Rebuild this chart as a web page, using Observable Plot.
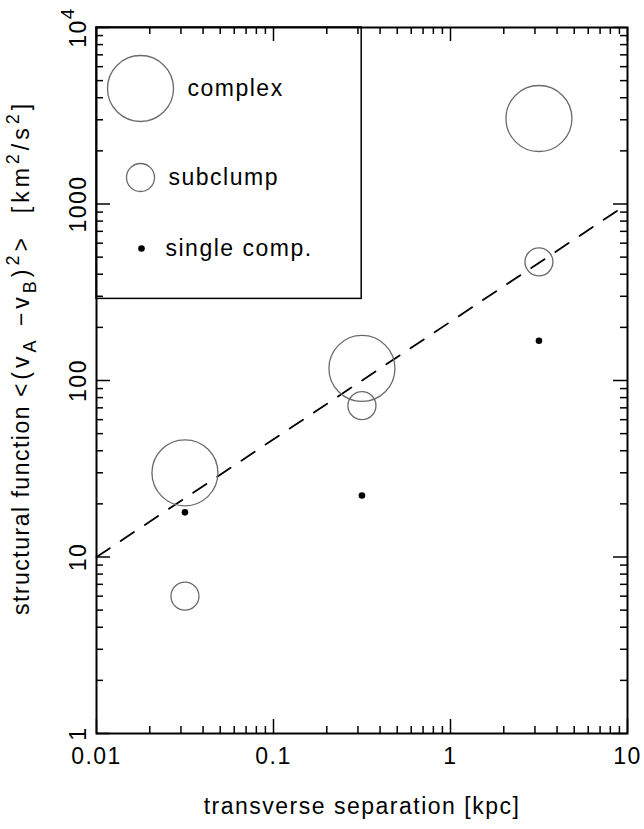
<!DOCTYPE html>
<html><head><meta charset="utf-8">
<script src="https://cdn.jsdelivr.net/npm/d3@7"></script>
<script src="https://cdn.jsdelivr.net/npm/@observablehq/plot@0.6"></script>
<style>
body{margin:0;background:#fff}
#chart svg text{letter-spacing:1.5px}
</style>
</head><body><div id="chart"></div>
<script>
// ---- data ----
const separation = [0.0316, 0.316, 3.16];          // kpc
const complexValues = [30, 117, 3050];             // km^2/s^2
const subclumpValues = [6.0, 72, 470];
const singleValues = [17.9, 22.3, 168];
const fitX = [0.01, 10];
const fitY = [10, 1000];
const xMajor = [0.01, 0.1, 1, 10];
const xTickLabels = ["0.01", "0.1", "1", "10"];
const yMajor = [1, 10, 100, 1000, 10000];
const yTickLabels = ["1", "10", "100", "1000", "10^4"];
const legendLabels = ["complex", "subclump", "single comp."];
const xTitle = "transverse separation [kpc]";

// minor ticks (2..9 in each decade)
const mult = [2,3,4,5,6,7,8,9];
const xMinor = xMajor.slice(0, -1).flatMap(d => mult.map(m => d * m));
const yMinor = yMajor.slice(0, -1).flatMap(d => mult.map(m => d * m));

const W = 644, H = 829, mL = 96, mR = 17, mT = 27, mB = 96;
const pw = W - mL - mR, ph = H - mT - mB;
const ink = "#000";
const circ = "#6a6a6a";

const fitData = fitX.map((x, i) => ({x, y: fitY[i]}));
const pts = (vals) => separation.map((x, i) => ({x, y: vals[i]}));

const plot = Plot.plot({
  width: W, height: H,
  marginLeft: mL, marginRight: mR, marginTop: mT, marginBottom: mB,
  x: {type: "log", domain: [0.01, 10]},
  y: {type: "log", domain: [1, 1e4]},
  style: {fontFamily: "'Liberation Sans', Arial, sans-serif", fontSize: "23px", background: "#fff", color: ink},
  marks: [
    // ticks, inward, on all four sides
    Plot.tickX(xMinor, {insetTop: ph - 7, stroke: ink, strokeWidth: 1.5}),
    Plot.tickX(xMajor, {insetTop: ph - 14, stroke: ink, strokeWidth: 1.5}),
    Plot.tickX(xMinor, {insetBottom: ph - 7, stroke: ink, strokeWidth: 1.5}),
    Plot.tickX(xMajor, {insetBottom: ph - 14, stroke: ink, strokeWidth: 1.5}),
    Plot.tickY(yMinor, {insetRight: pw - 7, stroke: ink, strokeWidth: 1.5}),
    Plot.tickY(yMajor, {insetRight: pw - 14, stroke: ink, strokeWidth: 1.5}),
    Plot.tickY(yMinor, {insetLeft: pw - 7, stroke: ink, strokeWidth: 1.5}),
    Plot.tickY(yMajor, {insetLeft: pw - 14, stroke: ink, strokeWidth: 1.5}),
    Plot.axisX(xMajor, {tickSize: 0, tickPadding: 14, label: null,
      tickFormat: d => xTickLabels[xMajor.indexOf(d)], fill: ink}),
    Plot.axisY(yMajor, {tickSize: 0, tickRotate: -90, tickPadding: 11, label: null,
      tickFormat: d => yTickLabels[yMajor.indexOf(d)], fill: ink}),
    Plot.text([xTitle], {frameAnchor: "bottom", dy: 73, lineAnchor: "middle", text: d => d, fill: ink}),
    // fit line
    Plot.line(fitData, {x: "x", y: "y", stroke: ink, strokeWidth: 1.8, strokeDasharray: "16,13"}),
    // data
    Plot.dot(pts(complexValues), {x: "x", y: "y", r: 33, stroke: circ, strokeWidth: 1.3, fill: "none"}),
    Plot.dot(pts(subclumpValues), {x: "x", y: "y", r: 14, stroke: circ, strokeWidth: 1.3, fill: "none"}),
    Plot.dot(pts(singleValues), {x: "x", y: "y", r: 3.3, fill: ink, stroke: "none"}),
    // legend box
    Plot.rect([0], {x1: () => 0.01, x2: () => 0.315, y1: () => 290, y2: () => 1e4, fill: "none", stroke: ink, strokeWidth: 1.5}),
    Plot.dot([0], {frameAnchor: "top-left", dx: 44, dy: 61, r: 33, stroke: circ, strokeWidth: 1.3, fill: "none"}),
    Plot.text([legendLabels[0]], {frameAnchor: "top-left", dx: 91, dy: 61, text: d => d, textAnchor: "start", lineAnchor: "middle", fill: ink}),
    Plot.dot([0], {frameAnchor: "top-left", dx: 44, dy: 150, r: 14, stroke: circ, strokeWidth: 1.3, fill: "none"}),
    Plot.text([legendLabels[1]], {frameAnchor: "top-left", dx: 72, dy: 150, text: d => d, textAnchor: "start", lineAnchor: "middle", fill: ink}),
    Plot.dot([0], {frameAnchor: "top-left", dx: 45, dy: 221, r: 3.3, fill: ink, stroke: "none"}),
    Plot.text([legendLabels[2]], {frameAnchor: "top-left", dx: 69, dy: 221, text: d => d, textAnchor: "start", lineAnchor: "middle", fill: ink}),
    Plot.frame({stroke: ink, strokeWidth: 2})
  ]
});
document.getElementById("chart").appendChild(plot);

const svg = d3.select(plot);
// 10^4 tick label with superscript
svg.selectAll("text").filter(function() { return this.textContent === "10^4"; }).each(function() {
  const t = d3.select(this);
  t.text("10");
  t.append("tspan").attr("dy", -12).attr("font-size", 19).text("4");
});
// y-axis title with sub/superscripts
const yl = svg.append("text")
  .attr("transform", "translate(29,615) rotate(-90)")
  .attr("text-anchor", "start").attr("fill", ink).attr("font-size", 23);
const parts = [
  ["structural function ", 0, 23, 1.5], ["<(v", 0, 23, 4], ["A", 7, 18, 4], [" −v", -7, 23, 4], ["B", 7, 18, 4],
  [")", -7, 23, 4], ["2", -10, 18, 4], [">  [km", 10, 23, 4], ["2", -10, 18, 4], ["/s", 10, 23, 4], ["2", -10, 18, 4], ["]", 10, 23, 4]
];
parts.forEach(([s, dy, fs, ls]) => yl.append("tspan").attr("dy", dy).attr("font-size", fs)
  .style("letter-spacing", ls + "px").text(s));
</script>
</body></html>
